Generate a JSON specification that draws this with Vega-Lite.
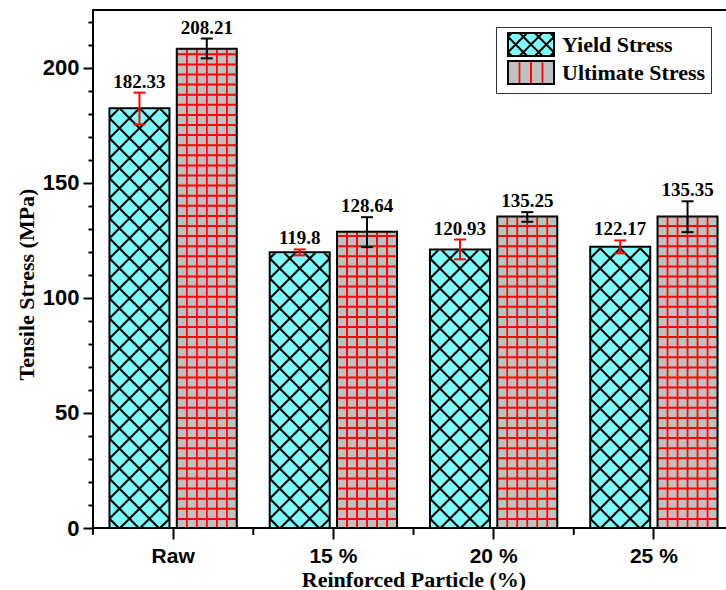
{
"$schema":"https://vega.github.io/schema/vega-lite/v6.json",
"width":641,"height":518,
"autosize":{"type":"none"},
"padding":{"left":93,"top":10,"right":0,"bottom":62},
"background":"white",
"config":{"view":{"stroke":"black","strokeWidth":2},"axis":{"grid":false}},
"data":{"values":[
{"cat":"Raw","series":"Yield Stress","value":182.33,"lo":175.3,"hi":189.1},
{"cat":"Raw","series":"Ultimate Stress","value":208.21,"lo":204.0,"hi":212.6},
{"cat":"15 %","series":"Yield Stress","value":119.8,"lo":118.4,"hi":121.0},
{"cat":"15 %","series":"Ultimate Stress","value":128.64,"lo":122.0,"hi":135.0},
{"cat":"20 %","series":"Yield Stress","value":120.93,"lo":116.7,"hi":125.3},
{"cat":"20 %","series":"Ultimate Stress","value":135.25,"lo":133.0,"hi":137.2},
{"cat":"25 %","series":"Yield Stress","value":122.17,"lo":119.3,"hi":124.9},
{"cat":"25 %","series":"Ultimate Stress","value":135.35,"lo":128.5,"hi":141.9}
]},
"encoding":{
"x":{"field":"cat","type":"nominal","sort":null,"scale":{"paddingInner":0.16,"paddingOuter":0.08},"axis":{"title":"Reinforced Particle (%)","domain":false,"ticks":true,"tickSize":11,"tickWidth":2,"tickColor":"black","labelFont":"Liberation Sans","labelFontWeight":"bold","labelFontSize":21,"labelColor":"black","labelBaseline":"alphabetic","labelPadding":23,"labelAngle":0,"titleFont":"Liberation Serif","titleFontWeight":"bold","titleFontSize":22,"titleColor":"black","titleBaseline":"alphabetic","titleY":58,"grid":false}},
"y":{"field":"value","type":"quantitative","scale":{"domain":[0,225],"nice":false},"axis":{"values":[0,10,20,30,40,50,60,70,80,90,100,110,120,130,140,150,160,170,180,190,200,210,220],"labelExpr":"datum.value % 50 === 0 ? datum.label : ''","title":"Tensile Stress (MPa)","domain":false,"tickSize":10,"tickWidth":2,"tickColor":"black","labelFont":"Liberation Sans","labelFontWeight":"bold","labelFontSize":22,"labelColor":"black","labelPadding":4,"labelFlush":false,"labelOverlap":false,"titleFont":"Liberation Serif","titleFontWeight":"bold","titleFontSize":22,"titleColor":"black","titleX":-60,"titleY":274,"titleBaseline":"alphabetic","titleAlign":"center","titleAngle":270,"grid":false,
"encoding":{"ticks":{"x2":{"condition":{"test":"datum.value % 50 === 0","value":-10},"value":-5}}}}}
},
"layer":[
{
"transform":[{"filter":"datum.series === 'Yield Stress'"},{"joinaggregate":[{"op":"max","field":"value","as":"vmax"}]}],
"mark":{"type":"bar","width":60,"fill":{"gradient":"linear","x1":0,"y1":0,"x2":0.16717,"y2":1.16838,"stops":[
{"offset":0.0155,"color":"#80ffff"},{"offset":0.0185,"color":"#000"},{"offset":0.0215,"color":"#000"},{"offset":0.0245,"color":"#80ffff"},
{"offset":0.0555,"color":"#80ffff"},{"offset":0.0585,"color":"#000"},{"offset":0.0615,"color":"#000"},{"offset":0.0645,"color":"#80ffff"},
{"offset":0.0955,"color":"#80ffff"},{"offset":0.0985,"color":"#000"},{"offset":0.1015,"color":"#000"},{"offset":0.1045,"color":"#80ffff"},
{"offset":0.1355,"color":"#80ffff"},{"offset":0.1385,"color":"#000"},{"offset":0.1415,"color":"#000"},{"offset":0.1445,"color":"#80ffff"},
{"offset":0.1755,"color":"#80ffff"},{"offset":0.1785,"color":"#000"},{"offset":0.1815,"color":"#000"},{"offset":0.1845,"color":"#80ffff"},
{"offset":0.2155,"color":"#80ffff"},{"offset":0.2185,"color":"#000"},{"offset":0.2215,"color":"#000"},{"offset":0.2245,"color":"#80ffff"},
{"offset":0.2555,"color":"#80ffff"},{"offset":0.2585,"color":"#000"},{"offset":0.2615,"color":"#000"},{"offset":0.2645,"color":"#80ffff"},
{"offset":0.2955,"color":"#80ffff"},{"offset":0.2985,"color":"#000"},{"offset":0.3015,"color":"#000"},{"offset":0.3045,"color":"#80ffff"},
{"offset":0.3355,"color":"#80ffff"},{"offset":0.3385,"color":"#000"},{"offset":0.3415,"color":"#000"},{"offset":0.3445,"color":"#80ffff"},
{"offset":0.3755,"color":"#80ffff"},{"offset":0.3785,"color":"#000"},{"offset":0.3815,"color":"#000"},{"offset":0.3845,"color":"#80ffff"},
{"offset":0.4155,"color":"#80ffff"},{"offset":0.4185,"color":"#000"},{"offset":0.4215,"color":"#000"},{"offset":0.4245,"color":"#80ffff"},
{"offset":0.4555,"color":"#80ffff"},{"offset":0.4585,"color":"#000"},{"offset":0.4615,"color":"#000"},{"offset":0.4645,"color":"#80ffff"},
{"offset":0.4955,"color":"#80ffff"},{"offset":0.4985,"color":"#000"},{"offset":0.5015,"color":"#000"},{"offset":0.5045,"color":"#80ffff"},
{"offset":0.5355,"color":"#80ffff"},{"offset":0.5385,"color":"#000"},{"offset":0.5415,"color":"#000"},{"offset":0.5445,"color":"#80ffff"},
{"offset":0.5755,"color":"#80ffff"},{"offset":0.5785,"color":"#000"},{"offset":0.5815,"color":"#000"},{"offset":0.5845,"color":"#80ffff"},
{"offset":0.6155,"color":"#80ffff"},{"offset":0.6185,"color":"#000"},{"offset":0.6215,"color":"#000"},{"offset":0.6245,"color":"#80ffff"},
{"offset":0.6555,"color":"#80ffff"},{"offset":0.6585,"color":"#000"},{"offset":0.6615,"color":"#000"},{"offset":0.6645,"color":"#80ffff"},
{"offset":0.6955,"color":"#80ffff"},{"offset":0.6985,"color":"#000"},{"offset":0.7015,"color":"#000"},{"offset":0.7045,"color":"#80ffff"},
{"offset":0.7355,"color":"#80ffff"},{"offset":0.7385,"color":"#000"},{"offset":0.7415,"color":"#000"},{"offset":0.7445,"color":"#80ffff"},
{"offset":0.7755,"color":"#80ffff"},{"offset":0.7785,"color":"#000"},{"offset":0.7815,"color":"#000"},{"offset":0.7845,"color":"#80ffff"},
{"offset":0.8155,"color":"#80ffff"},{"offset":0.8185,"color":"#000"},{"offset":0.8215,"color":"#000"},{"offset":0.8245,"color":"#80ffff"},
{"offset":0.8555,"color":"#80ffff"},{"offset":0.8585,"color":"#000"},{"offset":0.8615,"color":"#000"},{"offset":0.8645,"color":"#80ffff"},
{"offset":0.8955,"color":"#80ffff"},{"offset":0.8985,"color":"#000"},{"offset":0.9015,"color":"#000"},{"offset":0.9045,"color":"#80ffff"},
{"offset":0.9355,"color":"#80ffff"},{"offset":0.9385,"color":"#000"},{"offset":0.9415,"color":"#000"},{"offset":0.9445,"color":"#80ffff"}
]}},
"encoding":{"y":{"field":"vmax","type":"quantitative"},"xOffset":{"field":"series","type":"nominal","sort":["Yield Stress","Ultimate Stress"]}}
},
{
"transform":[{"filter":"datum.series === 'Yield Stress'"},{"joinaggregate":[{"op":"max","field":"value","as":"vmax"}]}],
"mark":{"type":"bar","width":60,"fill":{"gradient":"linear","x1":1,"y1":0,"x2":0.83283,"y2":1.16838,"stops":[
{"offset":0.0155,"color":"rgba(0,0,0,0)"},{"offset":0.0185,"color":"#000"},{"offset":0.0215,"color":"#000"},{"offset":0.0245,"color":"rgba(0,0,0,0)"},
{"offset":0.0555,"color":"rgba(0,0,0,0)"},{"offset":0.0585,"color":"#000"},{"offset":0.0615,"color":"#000"},{"offset":0.0645,"color":"rgba(0,0,0,0)"},
{"offset":0.0955,"color":"rgba(0,0,0,0)"},{"offset":0.0985,"color":"#000"},{"offset":0.1015,"color":"#000"},{"offset":0.1045,"color":"rgba(0,0,0,0)"},
{"offset":0.1355,"color":"rgba(0,0,0,0)"},{"offset":0.1385,"color":"#000"},{"offset":0.1415,"color":"#000"},{"offset":0.1445,"color":"rgba(0,0,0,0)"},
{"offset":0.1755,"color":"rgba(0,0,0,0)"},{"offset":0.1785,"color":"#000"},{"offset":0.1815,"color":"#000"},{"offset":0.1845,"color":"rgba(0,0,0,0)"},
{"offset":0.2155,"color":"rgba(0,0,0,0)"},{"offset":0.2185,"color":"#000"},{"offset":0.2215,"color":"#000"},{"offset":0.2245,"color":"rgba(0,0,0,0)"},
{"offset":0.2555,"color":"rgba(0,0,0,0)"},{"offset":0.2585,"color":"#000"},{"offset":0.2615,"color":"#000"},{"offset":0.2645,"color":"rgba(0,0,0,0)"},
{"offset":0.2955,"color":"rgba(0,0,0,0)"},{"offset":0.2985,"color":"#000"},{"offset":0.3015,"color":"#000"},{"offset":0.3045,"color":"rgba(0,0,0,0)"},
{"offset":0.3355,"color":"rgba(0,0,0,0)"},{"offset":0.3385,"color":"#000"},{"offset":0.3415,"color":"#000"},{"offset":0.3445,"color":"rgba(0,0,0,0)"},
{"offset":0.3755,"color":"rgba(0,0,0,0)"},{"offset":0.3785,"color":"#000"},{"offset":0.3815,"color":"#000"},{"offset":0.3845,"color":"rgba(0,0,0,0)"},
{"offset":0.4155,"color":"rgba(0,0,0,0)"},{"offset":0.4185,"color":"#000"},{"offset":0.4215,"color":"#000"},{"offset":0.4245,"color":"rgba(0,0,0,0)"},
{"offset":0.4555,"color":"rgba(0,0,0,0)"},{"offset":0.4585,"color":"#000"},{"offset":0.4615,"color":"#000"},{"offset":0.4645,"color":"rgba(0,0,0,0)"},
{"offset":0.4955,"color":"rgba(0,0,0,0)"},{"offset":0.4985,"color":"#000"},{"offset":0.5015,"color":"#000"},{"offset":0.5045,"color":"rgba(0,0,0,0)"},
{"offset":0.5355,"color":"rgba(0,0,0,0)"},{"offset":0.5385,"color":"#000"},{"offset":0.5415,"color":"#000"},{"offset":0.5445,"color":"rgba(0,0,0,0)"},
{"offset":0.5755,"color":"rgba(0,0,0,0)"},{"offset":0.5785,"color":"#000"},{"offset":0.5815,"color":"#000"},{"offset":0.5845,"color":"rgba(0,0,0,0)"},
{"offset":0.6155,"color":"rgba(0,0,0,0)"},{"offset":0.6185,"color":"#000"},{"offset":0.6215,"color":"#000"},{"offset":0.6245,"color":"rgba(0,0,0,0)"},
{"offset":0.6555,"color":"rgba(0,0,0,0)"},{"offset":0.6585,"color":"#000"},{"offset":0.6615,"color":"#000"},{"offset":0.6645,"color":"rgba(0,0,0,0)"},
{"offset":0.6955,"color":"rgba(0,0,0,0)"},{"offset":0.6985,"color":"#000"},{"offset":0.7015,"color":"#000"},{"offset":0.7045,"color":"rgba(0,0,0,0)"},
{"offset":0.7355,"color":"rgba(0,0,0,0)"},{"offset":0.7385,"color":"#000"},{"offset":0.7415,"color":"#000"},{"offset":0.7445,"color":"rgba(0,0,0,0)"},
{"offset":0.7755,"color":"rgba(0,0,0,0)"},{"offset":0.7785,"color":"#000"},{"offset":0.7815,"color":"#000"},{"offset":0.7845,"color":"rgba(0,0,0,0)"},
{"offset":0.8155,"color":"rgba(0,0,0,0)"},{"offset":0.8185,"color":"#000"},{"offset":0.8215,"color":"#000"},{"offset":0.8245,"color":"rgba(0,0,0,0)"},
{"offset":0.8555,"color":"rgba(0,0,0,0)"},{"offset":0.8585,"color":"#000"},{"offset":0.8615,"color":"#000"},{"offset":0.8645,"color":"rgba(0,0,0,0)"},
{"offset":0.8955,"color":"rgba(0,0,0,0)"},{"offset":0.8985,"color":"#000"},{"offset":0.9015,"color":"#000"},{"offset":0.9045,"color":"rgba(0,0,0,0)"},
{"offset":0.9355,"color":"rgba(0,0,0,0)"},{"offset":0.9385,"color":"#000"},{"offset":0.9415,"color":"#000"},{"offset":0.9445,"color":"rgba(0,0,0,0)"}
]}},
"encoding":{"y":{"field":"vmax","type":"quantitative"},"xOffset":{"field":"series","type":"nominal","sort":["Yield Stress","Ultimate Stress"]}}
},
{
"transform":[{"filter":"datum.series === 'Yield Stress'"},{"joinaggregate":[{"op":"max","field":"value","as":"vmax"}]}],
"mark":{"type":"bar","width":60,"fill":"white","stroke":"white","strokeWidth":2},
"encoding":{"y":{"field":"vmax","type":"quantitative"},"y2":{"field":"value"},"xOffset":{"field":"series","type":"nominal","sort":["Yield Stress","Ultimate Stress"]}}
},
{
"transform":[{"filter":"datum.series === 'Ultimate Stress'"}],
"mark":{"type":"bar","width":60,"fill":{"gradient":"linear","x1":0,"y1":0,"x2":1,"y2":0,"stops":[
{"offset":0.145,"color":"#c0c0c0"},{"offset":0.158,"color":"#ff0000"},{"offset":0.175,"color":"#ff0000"},{"offset":0.188,"color":"#c0c0c0"},
{"offset":0.312,"color":"#c0c0c0"},{"offset":0.325,"color":"#ff0000"},{"offset":0.342,"color":"#ff0000"},{"offset":0.355,"color":"#c0c0c0"},
{"offset":0.478,"color":"#c0c0c0"},{"offset":0.492,"color":"#ff0000"},{"offset":0.508,"color":"#ff0000"},{"offset":0.522,"color":"#c0c0c0"},
{"offset":0.645,"color":"#c0c0c0"},{"offset":0.658,"color":"#ff0000"},{"offset":0.675,"color":"#ff0000"},{"offset":0.688,"color":"#c0c0c0"},
{"offset":0.812,"color":"#c0c0c0"},{"offset":0.825,"color":"#ff0000"},{"offset":0.842,"color":"#ff0000"},{"offset":0.855,"color":"#c0c0c0"}
]}},
"encoding":{"xOffset":{"field":"series","type":"nominal","sort":["Yield Stress","Ultimate Stress"]}}
},
{
"transform":[{"filter":"datum.series === 'Ultimate Stress'"}],
"mark":{"type":"rule","color":"#ff0000","strokeWidth":60,"strokeDash":[2,8.1],"strokeDashOffset":2,"strokeCap":"butt"},
"encoding":{"y":{"datum":0,"type":"quantitative"},"y2":{"field":"value"},"xOffset":{"field":"series","type":"nominal","sort":["Yield Stress","Ultimate Stress"]}}
},
{
"mark":{"type":"bar","width":60,"fill":"transparent","strokeWidth":2},
"encoding":{
"xOffset":{"field":"series","type":"nominal","sort":["Yield Stress","Ultimate Stress"]},
"stroke":{"field":"series","type":"nominal","scale":{"domain":["Yield Stress","Ultimate Stress"],"range":["black","black"]},"legend":{
"title":null,"orient":"none","legendX":403,"legendY":17,"padding":5,"fillColor":"white","strokeColor":"#333333",
"symbolType":"M-1,-1H3V1H-1Z","symbolSize":529,"symbolStrokeWidth":2,"symbolOffset":6,"labelOffset":30,"rowPadding":-4,
"labelFont":"Liberation Serif","labelFontWeight":"bold","labelFontSize":22,"labelColor":"black","labelLimit":400,
"labelExpr":"datum.label + '   '",
"encoding":{"symbols":{
"shape":{"condition":{"test":"datum.value === 'Yield Stress'","value":"M-1,-1H3V1H-1Z M-1,-0.667L0.667,1 M0,-1L2,1 M1.333,-1L3,0.667 M2.667,-1L3,-0.667 M-1,0.667L-0.667,1 M-1,0.667L0.667,-1 M0,1L2,-1 M1.333,1L3,-0.667 M2.667,1L3,0.667 M-1,-0.667L-0.667,-1"},"value":"M-1,-1H3V1H-1Z"},
"fill":{"condition":{"test":"datum.value === 'Yield Stress'","value":"#80ffff"},"value":{"gradient":"linear","x1":0,"y1":0,"x2":1,"y2":0,"stops":[
{"offset":0.222,"color":"#c0c0c0"},{"offset":0.239,"color":"#ff0000"},{"offset":0.261,"color":"#ff0000"},{"offset":0.278,"color":"#c0c0c0"},
{"offset":0.472,"color":"#c0c0c0"},{"offset":0.489,"color":"#ff0000"},{"offset":0.511,"color":"#ff0000"},{"offset":0.528,"color":"#c0c0c0"},
{"offset":0.722,"color":"#c0c0c0"},{"offset":0.739,"color":"#ff0000"},{"offset":0.761,"color":"#ff0000"},{"offset":0.778,"color":"#c0c0c0"}]}},
"fillOpacity":{"value":1}
}}
}}
}
},
{
"transform":[{"filter":"datum.series === 'Yield Stress'"}],
"mark":{"type":"rule","strokeWidth":2,"color":"black","xOffset":-80.1},
"encoding":{"y":{"datum":0,"type":"quantitative"},"y2":{"datum":-3}}
},
{
"mark":{"type":"rule","strokeWidth":2},
"encoding":{
"xOffset":{"field":"series","type":"nominal","sort":["Yield Stress","Ultimate Stress"]},
"y":{"field":"lo","type":"quantitative"},
"y2":{"field":"hi"},
"color":{"condition":{"test":"datum.series === 'Yield Stress'","value":"#ff0000"},"value":"black"}
}
},
{
"mark":{"type":"point","shape":"stroke","size":144,"strokeWidth":2,"filled":false,"opacity":1},
"encoding":{
"xOffset":{"field":"series","type":"nominal","sort":["Yield Stress","Ultimate Stress"]},
"y":{"field":"lo","type":"quantitative"},
"color":{"condition":{"test":"datum.series === 'Yield Stress'","value":"#ff0000"},"value":"black"}
}
},
{
"mark":{"type":"point","shape":"stroke","size":144,"strokeWidth":2,"filled":false,"opacity":1},
"encoding":{
"xOffset":{"field":"series","type":"nominal","sort":["Yield Stress","Ultimate Stress"]},
"y":{"field":"hi","type":"quantitative"},
"color":{"condition":{"test":"datum.series === 'Yield Stress'","value":"#ff0000"},"value":"black"}
}
},
{
"mark":{"type":"text","font":"Liberation Serif","fontWeight":"bold","fontSize":19,"color":"black","baseline":"alphabetic","dy":-5},
"encoding":{
"xOffset":{"field":"series","type":"nominal","sort":["Yield Stress","Ultimate Stress"]},
"y":{"field":"hi","type":"quantitative"},
"text":{"field":"value","type":"nominal"}
}
}
]
}
